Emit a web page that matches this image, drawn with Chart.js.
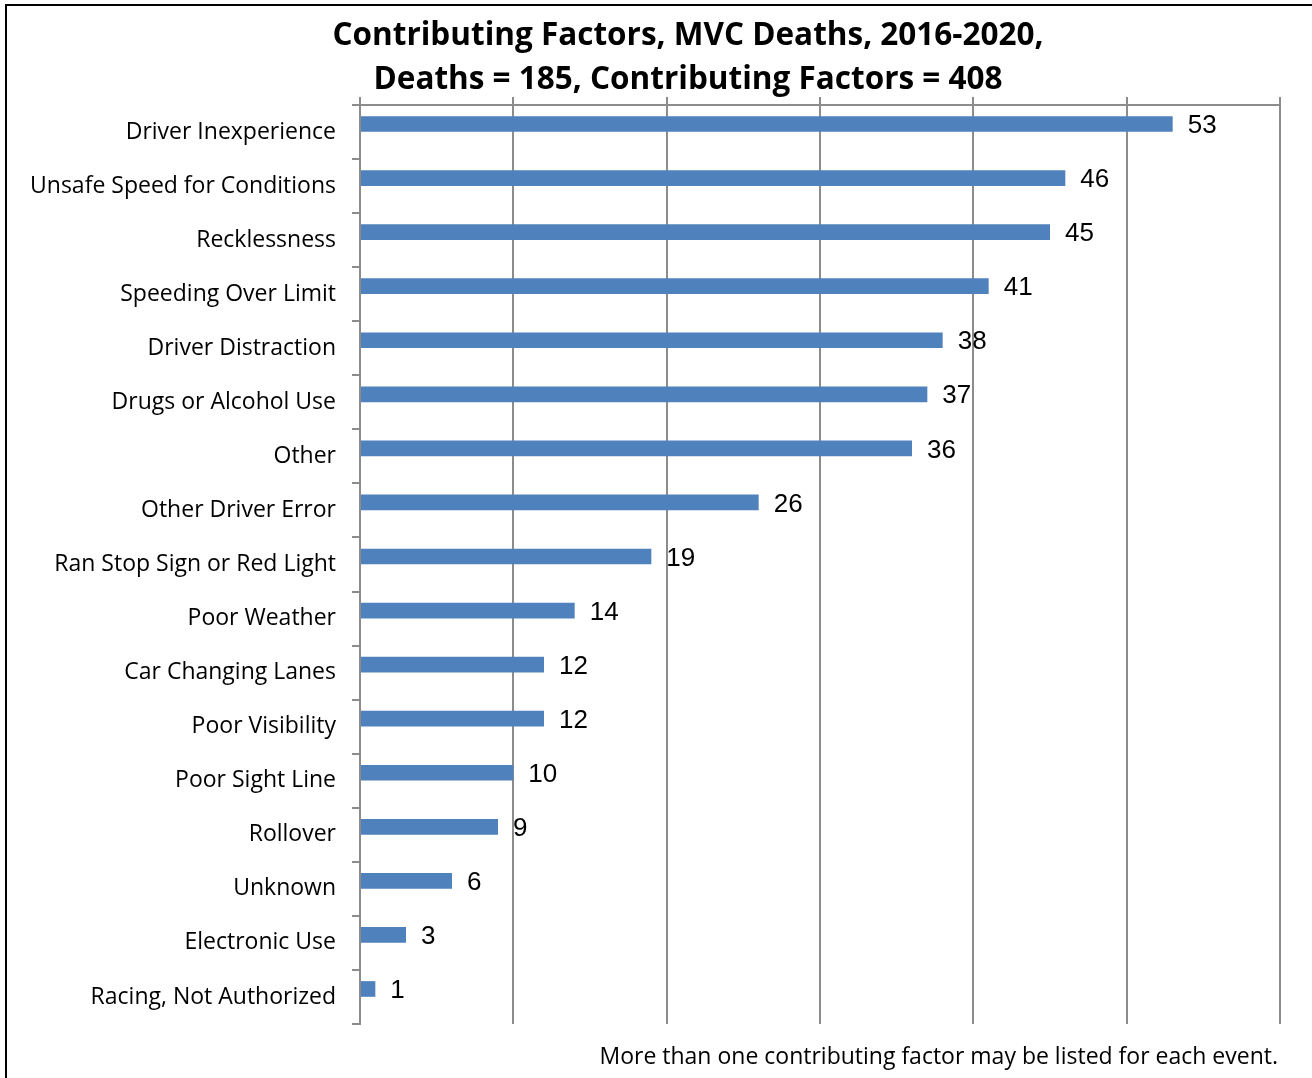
<!DOCTYPE html>
<html>
<head>
<meta charset="utf-8">
<script src="https://cdn.jsdelivr.net/npm/chart.js@4.4.0/dist/chart.umd.min.js"></script>
<style>
  html, body { margin: 0; padding: 0; background: #fff; }
  canvas { display: block; }
</style>
</head>
<body>
<canvas id="chart" width="1312" height="1078"></canvas>
<script>
// categories, top to bottom
const factors = [
  "Driver Inexperience",
  "Unsafe Speed for Conditions",
  "Recklessness",
  "Speeding Over Limit",
  "Driver Distraction",
  "Drugs or Alcohol Use",
  "Other",
  "Other Driver Error",
  "Ran Stop Sign or Red Light",
  "Poor Weather",
  "Car Changing Lanes",
  "Poor Visibility",
  "Poor Sight Line",
  "Rollover",
  "Unknown",
  "Electronic Use",
  "Racing, Not Authorized",
];
const counts = [53, 46, 45, 41, 38, 37, 36, 26, 19, 14, 12, 12, 10, 9, 6, 3, 1];

const titleLines = [
  "Contributing Factors, MVC Deaths, 2016-2020,",
  "Deaths = 185, Contributing Factors = 408",
];
const footnote = "More than one contributing factor may be listed for each event.";

const gridGray = "#8c8c8c";
const barBlue = "#4f81bd";
const barShift = -8; // excel draws the bar above the band centre

const frame = {
  id: "frame",
  beforeDraw(chart) {
    const ctx = chart.ctx;
    ctx.save();
    ctx.fillStyle = "#fff";
    ctx.fillRect(0, 0, chart.width, chart.height);
    ctx.strokeStyle = "#000";
    ctx.lineWidth = 2;
    ctx.beginPath();
    ctx.moveTo(6, chart.height);
    ctx.lineTo(6, 5);
    ctx.lineTo(chart.width, 5);
    ctx.stroke();

    ctx.fillStyle = "#000";
    ctx.textAlign = "center";
    ctx.textBaseline = "middle";
    ctx.font = "bold 31.5px 'Open Sans'";
    ctx.fillText(titleLines[0], 688, 36);
    ctx.fillText(titleLines[1], 688, 80);

    ctx.textAlign = "right";
    ctx.font = "23px 'Open Sans'";
    ctx.fillText(footnote, 1278, 1057);
    ctx.restore();
  },
  beforeDatasetsDraw(chart) {
    chart.ctx.save();
    chart.ctx.translate(0, barShift);
  },
  afterDatasetsDraw(chart) {
    const ctx = chart.ctx;
    ctx.restore();
    const meta = chart.getDatasetMeta(0);
    ctx.save();
    ctx.fillStyle = "#000";
    ctx.font = "26px 'Liberation Sans', Arial";
    ctx.textAlign = "left";
    ctx.textBaseline = "middle";
    meta.data.forEach((bar, i) => {
      ctx.fillText(String(counts[i]), bar.x + 15, bar.y + barShift + 2);
    });
    ctx.restore();
  },
};

new Chart(document.getElementById("chart"), {
  type: "bar",
  data: {
    labels: factors,
    datasets: [
      {
        data: counts,
        backgroundColor: barBlue,
        borderWidth: 0,
        categoryPercentage: 1,
        barPercentage: 0.29,
      },
    ],
  },
  options: {
    indexAxis: "y",
    responsive: false,
    animation: false,
    layout: { padding: { left: 0, right: 32, top: 0, bottom: 54 } },
    plugins: {
      legend: { display: false },
      tooltip: { enabled: false },
      title: { display: false },
    },
    scales: {
      x: {
        position: "top",
        min: 0,
        max: 60,
        ticks: { stepSize: 10, display: false },
        grid: {
          color: gridGray,
          lineWidth: 2,
          tickLength: 8,
          drawOnChartArea: true,
        },
        border: { color: gridGray, width: 2 },
        afterFit(scale) {
          scale.height = 105;
        },
      },
      y: {
        ticks: {
          color: "#000",
          font: { family: "'Open Sans'", size: 23 },
          padding: 16,
        },
        grid: {
          offset: true,
          color: gridGray,
          lineWidth: 2,
          tickLength: 8,
          drawOnChartArea: false,
        },
        border: { color: gridGray, width: 2 },
        afterFit(scale) {
          scale.width = 360;
        },
      },
    },
  },
  plugins: [frame],
});
</script>
</body>
</html>
